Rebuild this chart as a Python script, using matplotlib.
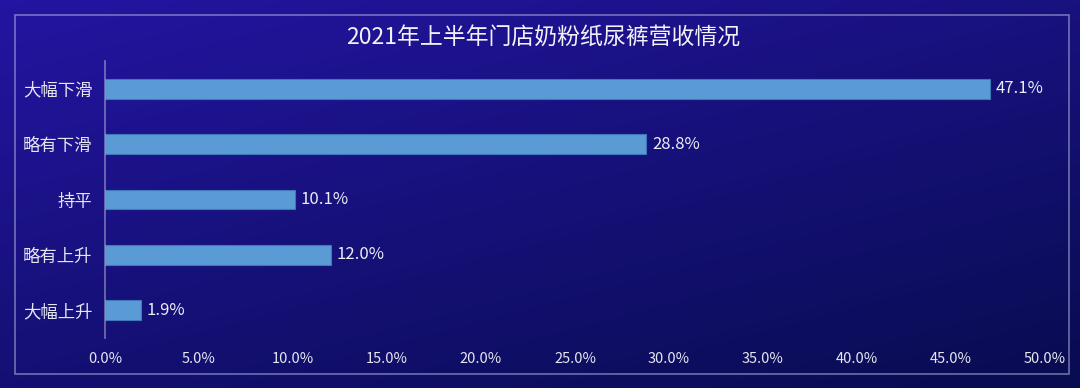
import matplotlib
matplotlib.use("Agg")
import matplotlib.pyplot as plt
import numpy as np
from matplotlib.patches import Rectangle
from matplotlib.ticker import FuncFormatter

plt.rcParams['font.family'] = ['Noto Sans CJK SC', 'DejaVu Sans']

title = "2021年上半年门店奶粉纸尿裤营收情况"
categories = ["大幅下滑", "略有下滑", "持平", "略有上升", "大幅上升"]
values = [47.1, 28.8, 10.1, 12.0, 1.9]
xticks = [0, 5, 10, 15, 20, 25, 30, 35, 40, 45, 50]

W, H = 1080, 388
fig = plt.figure(figsize=(W / 100, H / 100), dpi=100)

# background gradient
bg = fig.add_axes([0, 0, 1, 1], zorder=-10)
bg.axis("off")
yy, xx = np.mgrid[0:1:200j, 0:1:400j]
t = np.clip(0.55 * xx + 0.75 * yy, 0, 1.3) / 1.3
c0 = np.array([0x24, 0x15, 0xa2]) / 255
c1 = np.array([0x08, 0x0c, 0x50]) / 255
img = c0[None, None, :] * (1 - t[..., None]) + c1[None, None, :] * t[..., None]
bg.imshow(img, aspect="auto", extent=[0, 1, 0, 1], origin="upper")
bg.set_xlim(0, 1)
bg.set_ylim(0, 1)
bg.add_patch(Rectangle((15 / W, 1 - 374 / H), (1069 - 15) / W, (374 - 15) / H,
                       fill=False, edgecolor=(0.75, 0.75, 0.9, 0.55), linewidth=1.2,
                       transform=bg.transAxes))

ax = fig.add_axes([105 / W, 1 - 338 / H, (1045 - 105) / W, (338 - 61) / H])
ax.patch.set_alpha(0)
y = np.arange(len(categories))
ax.barh(y, values, height=0.36, color="#5b9bd5", edgecolor="#3f78b8", linewidth=0.8)
ax.set_ylim(len(categories) - 0.5, -0.5)
ax.set_xlim(0, 50)
ax.set_yticks(y)
ax.set_yticklabels(categories)
ax.set_xticks(xticks)
ax.xaxis.set_major_formatter(FuncFormatter(lambda v, p: f"{v:.1f}%"))
ax.tick_params(axis="both", length=0, colors="#e6e6f0")
ax.tick_params(axis="y", pad=9, labelsize=12.5)
ax.tick_params(axis="x", pad=10, labelsize=10.5)
for lab in ax.get_yticklabels():
    lab.set_fontweight("medium")
for s in ["top", "right", "bottom"]:
    ax.spines[s].set_visible(False)
ax.spines["left"].set_color((0.7, 0.7, 0.85, 0.6))
ax.spines["left"].set_linewidth(1.2)

for yi, v in zip(y, values):
    ax.text(v + 0.3, yi, f"{v:.1f}%", va="center", ha="left", color="#ececf4",
            fontsize=12, fontweight="medium")

fig.text(543 / W, 1 - 38 / H, title, ha="center", va="center", color="#f2f2f8",
         fontsize=16.5, fontweight="medium")

fig.savefig("out.png", dpi=100)
